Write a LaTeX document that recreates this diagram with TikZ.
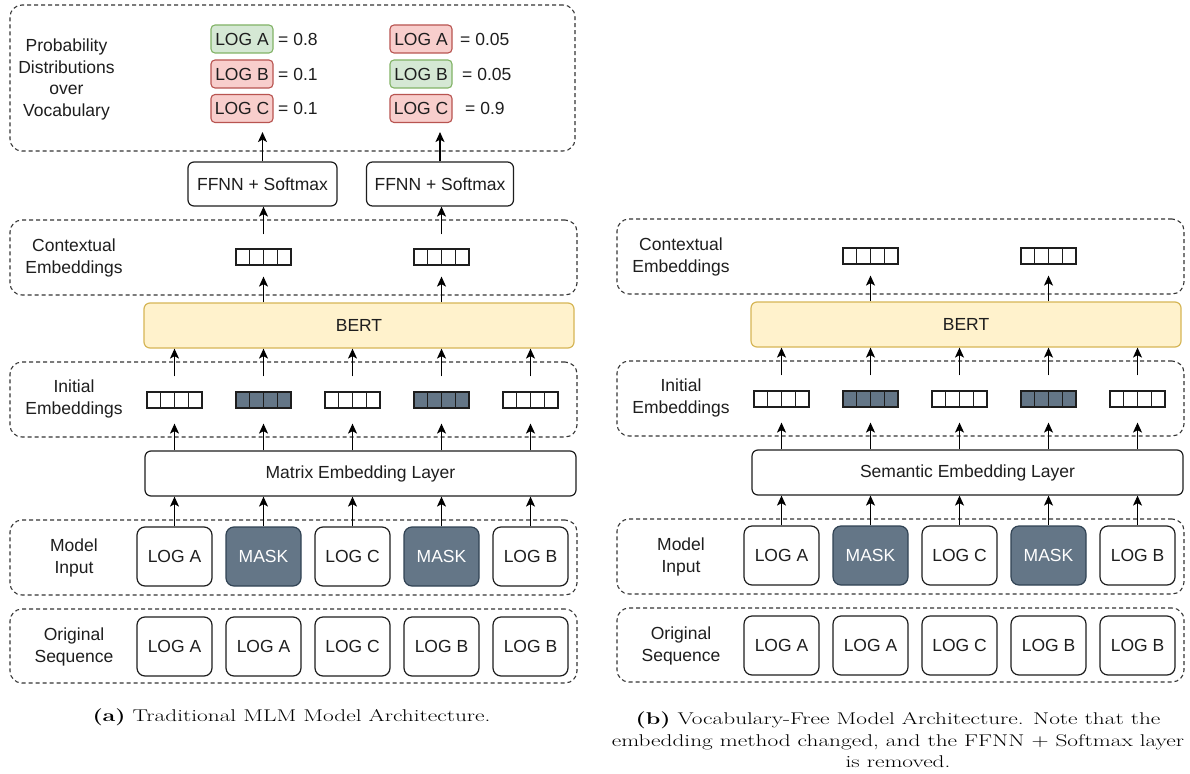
\documentclass[tikz,border=0pt]{standalone}
\usepackage{fontspec}
\usepackage{graphicx}
\newfontfamily\diafont{Liberation Sans}
\usetikzlibrary{arrows.meta,calc}

\definecolor{maskfill}{HTML}{647687}
\definecolor{maskdraw}{HTML}{314354}
\definecolor{goodfill}{HTML}{D5E8D4}
\definecolor{gooddraw}{HTML}{82B366}
\definecolor{badfill}{HTML}{F8CECC}
\definecolor{baddraw}{HTML}{B85450}
\definecolor{bertfill}{HTML}{FFF2CC}
\definecolor{bertdraw}{HTML}{D6B656}
\definecolor{ink}{HTML}{1E1E1E}

\tikzset{
  dia/.style={font=\diafont\fontsize{17.5}{21.5}\selectfont, text=ink},
  group/.style={draw=ink!90, line width=1.1pt, dash pattern=on 4pt off 3pt,
    rounded corners=12pt, inner sep=0pt},
  grouplabel/.style={dia, align=center},
  layerbox/.style={dia, draw=ink, line width=1.2pt, rounded corners=6pt,
    fill=white, inner sep=0pt, minimum height=45pt},
  bertbox/.style={layerbox, fill=bertfill, draw=bertdraw},
  token/.style={dia, draw=ink, line width=1.2pt, rounded corners=8pt,
    fill=white, inner sep=0pt, minimum width=75pt, minimum height=59pt},
  masktok/.style={token, fill=maskfill, draw=maskdraw, text=white},
  probtok/.style={dia, line width=1.1pt, rounded corners=4pt, inner sep=0pt,
    minimum width=62pt, minimum height=28pt},
  good/.style={probtok, fill=goodfill, draw=gooddraw},
  bad/.style={probtok, fill=badfill, draw=baddraw},
  vecbox/.style={draw=ink, line width=1.2pt, inner sep=0pt,
    minimum width=55pt, minimum height=16pt},
  plainvec/.style={vecbox, fill=white},
  maskvec/.style={vecbox, fill=maskfill},
  arr/.style={draw=black, line width=1.2pt,
    -{Stealth[length=10pt,width=9pt,inset=2.5pt]}},
  capfont/.style={font=\fontsize{17}{21.5}\selectfont, align=center, inner sep=0pt},
}

% one caption line, set wide
\newcommand\capline[1]{\scalebox{1.37}[1]{#1}}

% a four-cell embedding vector
\newcommand\embvec[4]{% name, style, x, y
  \node[#2] (#1) at (#3,#4) {};
  \foreach \k in {1,2,3}
    \draw[ink, line width=1.2pt]
      ($(#1.north west)!\k/4!(#1.north east)$) --
      ($(#1.south west)!\k/4!(#1.south east)$);
}

% the shared lower part of an architecture: tokens, embedding layer,
% initial embeddings, BERT and the contextual-embeddings group
\newcommand\archpanel[2]{% name prefix, embedding layer text
  % group frames
  \node[group, minimum width=567pt, minimum height=74pt] (#1-origgrp) at (293.5,646) {};
  \node[group, minimum width=567pt, minimum height=75pt] (#1-ingrp) at (293.5,557.5) {};
  \node[group, minimum width=567pt, minimum height=75pt] (#1-initgrp) at (293.5,399.5) {};
  \node[group, minimum width=567pt, minimum height=75pt] (#1-ctxgrp) at (293.5,257.5) {};
  % group captions
  \node[grouplabel] (#1-origlbl) at (74,647) {Original\\Sequence};
  \node[grouplabel] (#1-inlbl) at (74,558) {Model\\Input};
  \node[grouplabel] (#1-initlbl) at (74,399) {Initial\\Embeddings};
  \node[grouplabel] (#1-ctxlbl) at (74,258) {Contextual\\Embeddings};
  % layers
  \node[layerbox, minimum width=431pt] (#1-emb) at (360.5,473.5) {#2};
  \node[bertbox, minimum width=430pt] (#1-bert) at (359,325.5) {BERT};
  % original sequence
  \foreach \i/\x/\t in {1/174.5/LOG A, 2/263.5/LOG A, 3/352.5/LOG C,
                        4/441.5/LOG B, 5/530.5/LOG B}
    \node[token] (#1-orig\i) at (\x,646.5) {\t};
  % masked model input
  \foreach \i/\x/\t/\s in {1/174.5/LOG A/token, 2/263.5/MASK/masktok,
                           3/352.5/LOG C/token, 4/441.5/MASK/masktok,
                           5/530.5/LOG B/token}
    \node[\s] (#1-in\i) at (\x,556.5) {\t};
  % initial embeddings
  \embvec{#1-iv1}{plainvec}{174.5}{400}
  \embvec{#1-iv2}{maskvec}{263.5}{400}
  \embvec{#1-iv3}{plainvec}{352.5}{400}
  \embvec{#1-iv4}{maskvec}{441.5}{400}
  \embvec{#1-iv5}{plainvec}{530.5}{400}
  % contextual embeddings
  \embvec{#1-cv2}{plainvec}{263.5}{257}
  \embvec{#1-cv4}{plainvec}{441.5}{257}
  % data flow
  \foreach \i in {1,...,5}{
    \draw[arr] (#1-in\i.north) -- (#1-in\i.north |- #1-emb.south);
    \draw[arr, shorten >=15pt] (#1-iv\i.south |- #1-emb.north) -- (#1-iv\i.south);
    \draw[arr, shorten <=15pt] (#1-iv\i.north) -- (#1-iv\i.north |- #1-bert.south);
  }
  \foreach \i in {2,4}
    \draw[arr, shorten >=11pt] (#1-cv\i.south |- #1-bert.north) -- (#1-cv\i.south);
}

\begin{document}
\begin{tikzpicture}[x=1pt,y=-1pt]
  \useasboundingbox (0,0) rectangle (1190,773);
  \fill[white] (0,0) rectangle (1190,773);

  % ---------- (a) traditional MLM ----------
  \archpanel{a}{Matrix Embedding Layer}

  \node[layerbox, minimum width=149pt, minimum height=44pt] (a-ff2) at (262.5,184) {FFNN + Softmax};
  \node[layerbox, minimum width=147pt, minimum height=44pt] (a-ff4) at (440,184) {FFNN + Softmax};

  \node[group, minimum width=565pt, minimum height=146pt] (a-probgrp) at (292.5,78) {};
  \node[grouplabel] (a-problbl) at (66.5,79.5) {Probability\\Distributions\\over\\Vocabulary};

  \node[good] (a-pa2) at (242,39) {LOG A};
  \node[bad]  (a-pb2) at (242,74) {LOG B};
  \node[bad]  (a-pc2) at (242,108.5) {LOG C};
  \node[dia, anchor=west, inner sep=0pt] (a-va2) at (278,39) {= 0.8};
  \node[dia, anchor=west, inner sep=0pt] (a-vb2) at (278,74) {= 0.1};
  \node[dia, anchor=west, inner sep=0pt] (a-vc2) at (278,108.5) {= 0.1};

  \node[bad]  (a-pa4) at (421,39) {LOG A};
  \node[good] (a-pb4) at (421,74) {LOG B};
  \node[bad]  (a-pc4) at (421,108.5) {LOG C};
  \node[dia, anchor=west, inner sep=0pt] (a-va4) at (460,39) {= 0.05};
  \node[dia, anchor=west, inner sep=0pt] (a-vb4) at (462,74) {= 0.05};
  \node[dia, anchor=west, inner sep=0pt] (a-vc4) at (465,108.5) {= 0.9};

  \foreach \i in {2,4}{
    \draw[arr, shorten <=14pt] (a-cv\i.north) -- (a-cv\i.north |- a-ff\i.south);
  }
  \draw[arr, shorten >=9pt] (a-ff2.north) -- (a-ff2.north |- a-pc2.south);
  \draw[arr, shorten >=9pt] (a-ff4.north) -- (a-ff4.north |- a-pc4.south);

  \node[capfont] (capa) at (291.5,717) {\capline{\textbf{(a)} Traditional MLM Model Architecture.}};

  % ---------- (b) vocabulary-free ----------
  \begin{scope}[xshift=607pt, yshift=1pt]
    \archpanel{b}{Semantic Embedding Layer}
  \end{scope}

  \node[capfont] (capb) at (898,740) {%
    \capline{\textbf{(b)} Vocabulary-Free Model Architecture. Note that the}\\
    \capline{embedding method changed, and the FFNN $+$ Softmax layer}\\
    \capline{is removed.}};
\end{tikzpicture}
\end{document}
